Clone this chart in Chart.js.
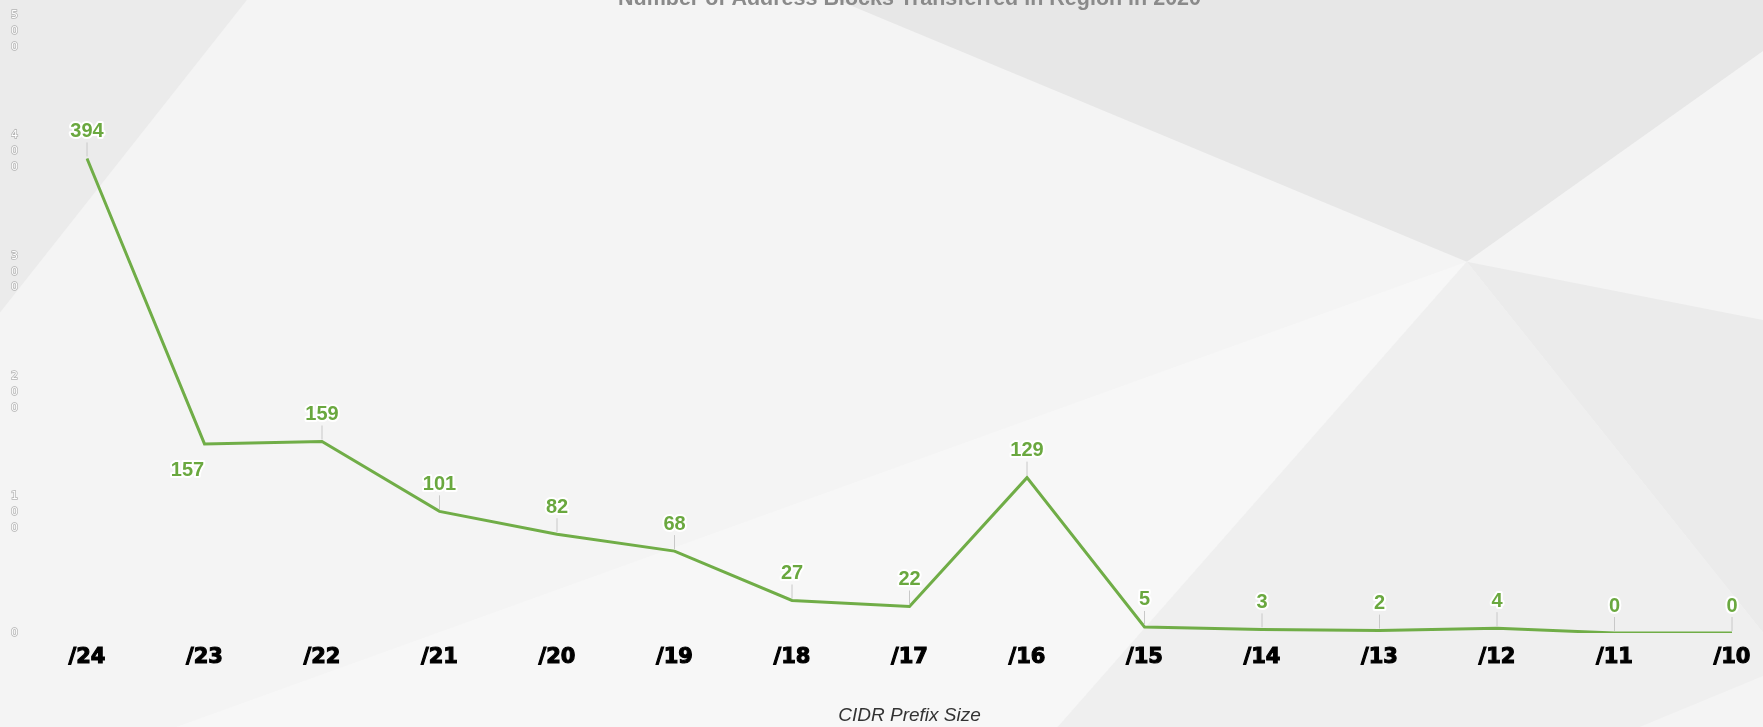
<!DOCTYPE html>
<html>
<head>
<meta charset="utf-8">
<script src="https://cdn.jsdelivr.net/npm/chart.js@4"></script>
<style>
  html, body { margin: 0; padding: 0; overflow: hidden; background: #f4f4f4; }
  #wrap { position: relative; width: 1763px; height: 727px; overflow: hidden; }
  #box { position: absolute; left: 0; top: -24px; width: 1763px; height: 751px; }
</style>
</head>
<body>
<div id="wrap"><div id="box"><canvas id="myChart"></canvas></div></div>
<script>
const prefixes = ["/24", "/23", "/22", "/21", "/20", "/19", "/18", "/17", "/16", "/15", "/14", "/13", "/12", "/11", "/10"];
const blocks = [394, 157, 159, 101, 82, 68, 27, 22, 129, 5, 3, 2, 4, 0, 0];
const yTicks = [0, 100, 200, 300, 400, 500];

// soft grey facets behind the chart (page fractions)
const facets = [
    { c: "#ebebeb", p: [[0, 0], [0.14, 0], [0, 0.43]] },
    { c: "#e7e7e7", p: [[0.475, 0], [1, 0], [1, 0.07], [0.832, 0.36]] },
    { c: "#ebebeb", p: [[0.832, 0.36], [1, 0.44], [1, 0.87]] },
    { c: "#f7f7f7", p: [[0.1, 1], [0.832, 0.36], [0.6, 1]] },
    { c: "#efefef", p: [[0.832, 0.36], [0.6, 1], [0.93, 1], [1, 0.93], [1, 0.87]] },
];

const background = {
    id: "background",
    beforeDraw(chart) {
        const c = chart.ctx, w = chart.width, h = 727, off = 24;
        c.save();
        c.fillStyle = "#f4f4f4";
        c.fillRect(0, 0, w, chart.height);
        facets.forEach(f => {
            c.beginPath();
            f.p.forEach(([x, y], i) => {
                if (i === 0) c.moveTo(x * w, y * h + off); else c.lineTo(x * w, y * h + off);
            });
            c.closePath();
            c.fillStyle = f.c;
            c.fill();
        });
        c.restore();
    }
};

const valueLabels = {
    id: "valueLabels",
    afterDatasetsDraw(chart, args, opts) {
        const c = chart.ctx;
        const meta = chart.getDatasetMeta(0);
        c.save();
        c.font = "bold 20px 'Liberation Sans', Arial, sans-serif";
        c.textAlign = "center";
        c.textBaseline = "middle";
        meta.data.forEach((pt, i) => {
            const v = chart.data.datasets[0].data[i];
            let x = pt.x, y = pt.y - 27;
            if (opts.below.includes(i)) {
                x = pt.x - 17;
                y = pt.y + 27;
            } else {
                c.strokeStyle = "#c8c8c8";
                c.lineWidth = 1;
                c.beginPath();
                c.moveTo(pt.x, pt.y - 2);
                c.lineTo(pt.x, pt.y - 16);
                c.stroke();
            }
            c.lineJoin = "round";
            c.strokeStyle = "#ffffff";
            c.lineWidth = 4;
            c.strokeText(String(v), x, y);
            c.fillStyle = "#6aa83f";
            c.fillText(String(v), x, y);
        });
        c.restore();
    }
};

const ctx = document.getElementById("myChart").getContext("2d");
const myChart = new Chart(ctx, {
    type: "line",
    data: {
        labels: prefixes,
        datasets: [
            {
                label: "Address Blocks",
                data: blocks,
                borderColor: "#70ad47",
                backgroundColor: "#70ad47",
                borderWidth: 3,
                pointRadius: 0,
                tension: 0,
                fill: false,
            },
        ],
    },
    options: {
        responsive: true,
        maintainAspectRatio: false,
        animation: false,
        layout: { padding: { top: 0, right: 31, bottom: 0, left: 11 } },
        plugins: {
            legend: { display: false },
            tooltip: { enabled: false },
            title: {
                display: true,
                fullSize: false,
                text: "Number of Address Blocks Transferred in Region in 2020",
                color: "#8a8a8a",
                font: { size: 21.5, weight: "bold", family: "'Liberation Sans', Arial, sans-serif" },
                padding: { top: 10, bottom: 19 },
            },
            valueLabels: { below: [1] },
        },
        scales: {
            x: {
                grid: { display: false, drawTicks: false },
                border: { display: false },
                ticks: {
                    color: "#000000",
                    textStrokeColor: "#000000",
                    textStrokeWidth: 1.1,
                    padding: 12,
                    maxRotation: 0,
                    font: { size: 21, weight: "bold", family: "'DejaVu Sans', sans-serif" },
                },
                title: {
                    display: true,
                    text: "CIDR Prefix Size",
                    color: "#333333",
                    font: { size: 19, style: "italic", family: "'Liberation Sans', Arial, sans-serif" },
                    padding: { top: 22, bottom: 0 },
                },
            },
            y: {
                min: 0,
                max: 500,
                afterBuildTicks: scale => { scale.ticks = yTicks.map(v => ({ value: v })); },
                afterFit: scale => { scale.width = 76; },
                grid: { display: false, drawTicks: false },
                border: { display: false },
                ticks: {
                    padding: 2,
                    crossAlign: "far",
                    color: "#ffffff",
                    textStrokeColor: "#b4b4b4",
                    textStrokeWidth: 1.5,
                    font: { size: 11, lineHeight: 1.45, family: "'DejaVu Sans', sans-serif" },
                    callback: v => String(v).split(""),
                },
            },
        },
    },
    plugins: [background, valueLabels],
});
</script>
</body>
</html>
